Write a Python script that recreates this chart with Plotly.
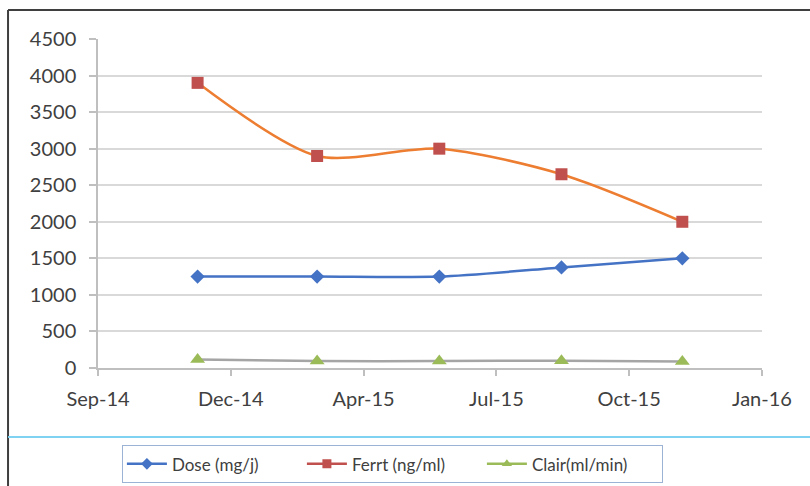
import pandas as pd
import plotly.graph_objects as go

# Sampling dates and measured series
dates = ["2014-12-01", "2015-03-01", "2015-06-01", "2015-09-01", "2015-12-01"]
dose = [1250, 1250, 1250, 1375, 1500]
ferrt = [3900, 2900, 3000, 2650, 2000]
clair = [115, 95, 95, 100, 90]

# Date axis: ticks every 100 days from the axis origin
axis_start = pd.Timestamp("2014-09-17")
tick_dates = [axis_start + pd.Timedelta(days=100 * k) for k in range(6)]
tick_labels = ["Sep-14", "Dec-14", "Apr-15", "Jul-15", "Oct-15", "Jan-16"]
y_ticks = list(range(0, 4501, 500))

FONT = "Lato"
TXT = "#404040"

series = [
    # name, values, line colour, marker colour, symbol, marker size
    ("Dose (mg/j)", dose, "#4472C4", "#4472C4", "diamond", 11),
    ("Ferrt (ng/ml)", ferrt, "#ED7D31", "#C0504D", "square", 12),
    ("Clair(ml/min)", clair, "#A5A5A5", "#9BBB59", "triangle-up", 13),
]

fig = go.Figure()
for name, vals, lc, mc, sym, ms in series:
    fig.add_trace(go.Scatter(
        x=dates, y=vals, mode="lines+markers", name=name,
        line=dict(color=lc, width=2.5, shape="spline", smoothing=0.8),
        marker=dict(color=mc, symbol=sym, size=ms),
        showlegend=False, legendgroup=name, cliponaxis=False,
    ))
# Legend entries drawn in each series' marker colour
for name, vals, lc, mc, sym, ms in series:
    fig.add_trace(go.Scatter(
        x=[None], y=[None], mode="lines+markers", name=name,
        line=dict(color=mc, width=2.5),
        marker=dict(color=mc, symbol=sym, size=9),
        legendgroup=name,
    ))

frame = "#3f3f3f"
shapes = [
    dict(type="line", xref="paper", yref="paper", x0=-0.1355, x1=1.08,
         y0=1.088, y1=1.088, line=dict(color=frame, width=2)),
    dict(type="line", xref="paper", yref="paper", x0=-0.1355, x1=-0.1355,
         y0=1.088, y1=-0.37, line=dict(color=frame, width=2)),
    dict(type="line", xref="paper", yref="paper", x0=-0.1355, x1=1.08,
         y0=-0.2097, y1=-0.2097, line=dict(color="#7FD2F2", width=2)),
]

fig.update_layout(
    width=810, height=486,
    margin=dict(l=98, r=48, t=39, b=118, autoexpand=False),
    paper_bgcolor="white", plot_bgcolor="white",
    font=dict(family=FONT, size=20, color=TXT),
    shapes=shapes,
    showlegend=True,
    legend=dict(
        orientation="h", x=0.036, xanchor="left", y=-0.235, yanchor="top",
        bordercolor="#9DB3D6", borderwidth=1,
        font=dict(family=FONT, size=17, color=TXT),
        entrywidth=125, entrywidthmode="pixels",
        itemwidth=40, tracegroupgap=0,
    ),
    xaxis=dict(
        type="date",
        range=[tick_dates[0], tick_dates[-1]],
        tickvals=tick_dates, ticktext=tick_labels,
        showgrid=False, zeroline=False,
        showline=True, linecolor="#BFBFBF", linewidth=1.5,
        ticks="outside", ticklen=6, tickcolor="#BFBFBF", tickwidth=1.5,
        ticklabelstandoff=6,
    ),
    yaxis=dict(
        range=[0, 4500], tickvals=y_ticks,
        showgrid=True, gridcolor="#D9D9D9", gridwidth=1.5,
        zeroline=False,
        showline=True, linecolor="#BFBFBF", linewidth=1.5,
        ticks="outside", ticklen=7, tickcolor="#BFBFBF", tickwidth=1.5,
        ticklabelstandoff=9,
    ),
)

fig.write_html("out.html")
